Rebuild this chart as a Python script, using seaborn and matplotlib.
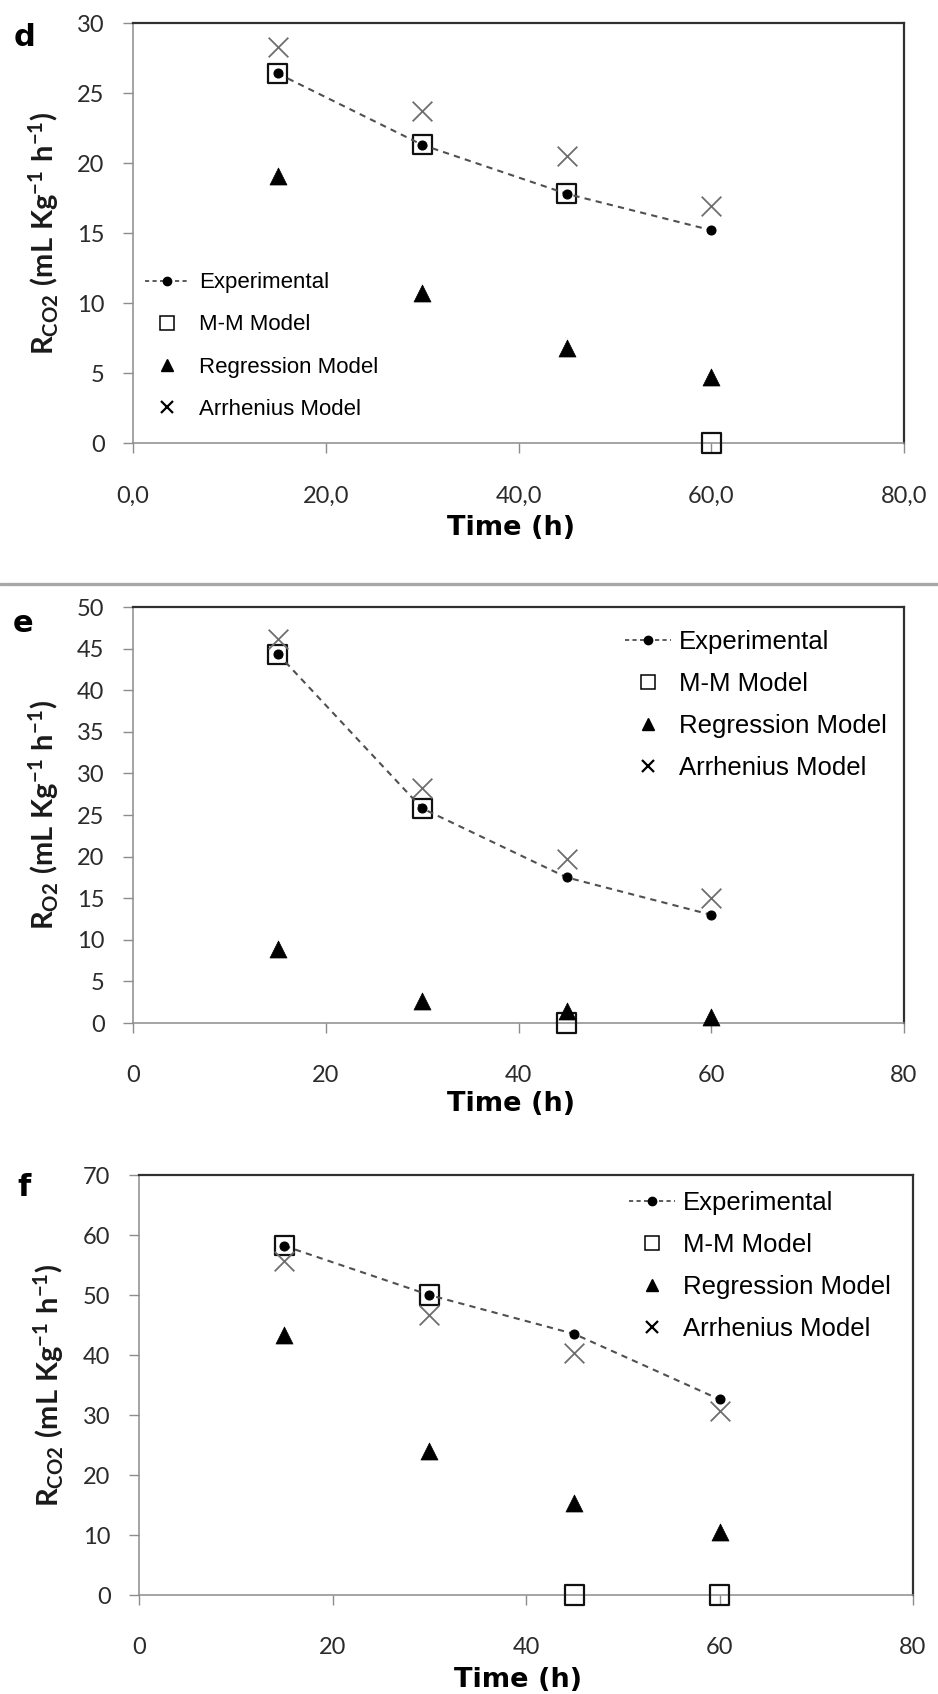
import numpy as np
import pandas as pd
import matplotlib
matplotlib.use("Agg")
import matplotlib.pyplot as plt
from matplotlib.lines import Line2D
import seaborn as sns

# ---------------- data ----------------
time = [15, 30, 45, 60]
x_ticks = [0, 20, 40, 60, 80]

d_exp = [26.4, 21.3, 17.8, 15.2]
d_mm = [26.4, 21.3, 17.8, 0.0]
d_reg = [19.1, 10.7, 6.8, 4.7]
d_arr = [28.3, 23.7, 20.5, 16.9]

e_exp = [44.4, 25.8, 17.5, 13.0]
e_mm = [44.3, 25.8, 0.0, np.nan]
e_reg = [8.9, 2.7, 1.4, 0.7]
e_arr = [46.2, 28.2, 19.7, 15.0]

f_exp = [58.2, 50.0, 43.5, 32.6]
f_mm = [58.2, 50.0, 0.0, 0.0]
f_reg = [43.3, 24.0, 15.3, 10.5]
f_arr = [55.6, 46.7, 40.4, 30.7]

legend_labels = ["Experimental", "M-M Model", "Regression Model", "Arrhenius Model"]
d_xticklabels = ["0,0", "20,0", "40,0", "60,0", "80,0"]
ef_xticklabels = ["0", "20", "40", "60", "80"]

# ---------------- style ----------------
sns.set_theme(style="white")
plt.rcParams["font.family"] = ["Lato", "DejaVu Sans"]
plt.rcParams["mathtext.fontset"] = "custom"
plt.rcParams["mathtext.rm"] = "Lato:bold"
plt.rcParams["mathtext.bf"] = "Lato:bold"
plt.rcParams["mathtext.it"] = "Lato:bold"
plt.rcParams["mathtext.default"] = "rm"

W, H = 938, 1694
fig = plt.figure(figsize=(W / 100, H / 100), dpi=100)
fig.patch.set_facecolor("white")


def axes_px(left, top, right, bottom):
    return fig.add_axes([left / W, 1 - bottom / H, (right - left) / W, (bottom - top) / H])


panels = [
    dict(box=(133, 23, 904, 443), exp=d_exp, mm=d_mm, reg=d_reg, arr=d_arr,
         ymax=30, ystep=5, xtl=d_xticklabels, letter="d", letter_xy=(24, 37),
         ylabel=r"$\mathrm{R_{CO2}\ (mL\ Kg^{-1}\ h^{-1})}$",
         leg_xy=(145, 346), leg_fs=16, leg_spacing=0.95, hl=2.0, htp=0.45,
         xlabel_top=515),
    dict(box=(133, 607, 904, 1023), exp=e_exp, mm=e_mm, reg=e_reg, arr=e_arr,
         ymax=50, ystep=5, xtl=ef_xticklabels, letter="e", letter_xy=(23, 623),
         ylabel=r"$\mathrm{R_{O2}\ (mL\ Kg^{-1}\ h^{-1})}$",
         leg_xy=(625, 705), leg_fs=18.5, leg_spacing=0.7, hl=1.8, htp=0.3,
         xlabel_top=1091),
    dict(box=(139, 1175, 913, 1595), exp=f_exp, mm=f_mm, reg=f_reg, arr=f_arr,
         ymax=70, ystep=10, xtl=ef_xticklabels, letter="f", letter_xy=(24, 1187),
         ylabel=r"$\mathrm{R_{CO2}\ (mL\ Kg^{-1}\ h^{-1})}$",
         leg_xy=(629, 1266), leg_fs=18.5, leg_spacing=0.7, hl=1.8, htp=0.3,
         xlabel_top=1667),
]

for p in panels:
    l, t, r, b = p["box"]
    ax = axes_px(l, t, r, b)
    df = pd.DataFrame({"time": time, "exp": p["exp"], "mm": p["mm"],
                       "reg": p["reg"], "arr": p["arr"]})

    sns.lineplot(data=df, x="time", y="exp", ax=ax, color="#505050",
                 linestyle=(0, (3, 2.5)), linewidth=1.5, marker="o",
                 markersize=6.5, markerfacecolor="black", markeredgecolor="black",
                 zorder=4, clip_on=False)
    sns.scatterplot(data=df, x="time", y="mm", ax=ax, marker="s", s=190,
                    facecolor="none", edgecolor="#111111", linewidth=1.6,
                    zorder=3, clip_on=False)
    sns.scatterplot(data=df, x="time", y="reg", ax=ax, marker="^", s=150,
                    color="black", edgecolor="black", linewidth=0.5,
                    zorder=3, clip_on=False)
    sns.scatterplot(data=df, x="time", y="arr", ax=ax, marker="x", s=200,
                    color="#6e6e6e", linewidth=1.3, zorder=3, clip_on=False)

    ax.set_xlim(0, 80)
    ax.set_ylim(0, p["ymax"])
    ax.set_xticks(x_ticks)
    ax.set_xticklabels(p["xtl"])
    yt = np.arange(0, p["ymax"] + 0.01, p["ystep"])
    ax.set_yticks(yt)
    ax.set_yticklabels([f"{int(v)}" for v in yt])
    ax.tick_params(axis="both", which="major", direction="out", length=7.5,
                   width=1.0, color="#8c8c8c", labelsize=17, labelcolor="#2b2b2b",
                   left=True, bottom=True)
    ax.tick_params(axis="y", pad=13)
    ax.tick_params(axis="x", pad=23)

    for side in ["top", "right"]:
        ax.spines[side].set_color("#303030")
        ax.spines[side].set_linewidth(1.6)
    for side in ["left", "bottom"]:
        ax.spines[side].set_color("#8c8c8c")
        ax.spines[side].set_linewidth(1.1)
    ax.set_zorder(1)

    ax.set_xlabel("")
    ax.set_ylabel(p["ylabel"], fontsize=21, color="#1a1a1a")
    ax.yaxis.set_label_coords(-0.094, 0.5)

    fig.text(0.5 * (l + r) / W - 0.008, 1 - p["xlabel_top"] / H, "Time (h)",
             family="DejaVu Sans", fontweight="bold", fontsize=19.5,
             ha="center", va="top", color="black")
    fig.text(p["letter_xy"][0] / W, 1 - p["letter_xy"][1] / H, p["letter"],
             family="DejaVu Sans", fontweight="bold", fontsize=22,
             ha="center", va="center", color="black")

    handles = [
        Line2D([], [], color="#404040", linestyle=(0, (2.5, 2)), linewidth=1.2,
               marker="o", markersize=6, markerfacecolor="black", markeredgecolor="black"),
        Line2D([], [], linestyle="none", marker="s", markersize=10,
               markerfacecolor="none", markeredgecolor="black", markeredgewidth=1.1),
        Line2D([], [], linestyle="none", marker="^", markersize=8.5,
               markerfacecolor="black", markeredgecolor="black"),
        Line2D([], [], linestyle="none", marker="x", markersize=8,
               markeredgecolor="black", markeredgewidth=1.6),
    ]
    leg = ax.legend(handles, legend_labels, loc="center left",
                    bbox_to_anchor=(p["leg_xy"][0] / W, 1 - p["leg_xy"][1] / H),
                    bbox_transform=fig.transFigure, frameon=False,
                    borderpad=0, borderaxespad=0, handlelength=p["hl"],
                    handletextpad=p["htp"], labelspacing=p["leg_spacing"],
                    prop={"family": ["Liberation Sans", "DejaVu Sans"], "size": p["leg_fs"]})
    for txt in leg.get_texts():
        txt.set_color("black")

# separator line between panel d and e
fig.add_artist(Line2D([0, 1], [1 - 584 / H, 1 - 584 / H], transform=fig.transFigure,
                      color="#a8a8a8", linewidth=2.4))

fig.savefig("out.png", dpi=100, facecolor="white")
